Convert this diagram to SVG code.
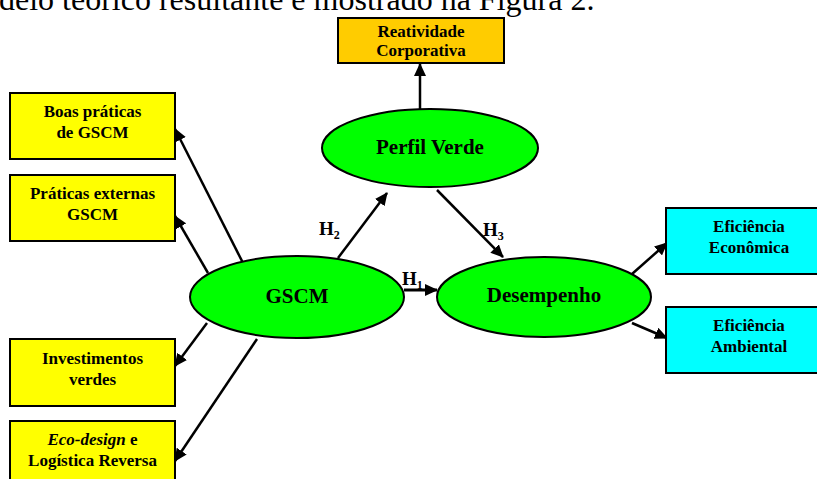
<svg xmlns="http://www.w3.org/2000/svg" width="817" height="479" viewBox="0 0 817 479">
<style>
.box{stroke:#000;stroke-width:2}
.yel{fill:#FFFF00}
.org{fill:#FFCC00}
.cyn{fill:#00FFFF}
.ell{fill:#00FF00;stroke:#000;stroke-width:2}
.bt{font-family:"Liberation Serif","Times New Roman",serif;font-weight:bold;font-size:17px;text-anchor:middle;fill:#000}
.et{font-family:"Liberation Serif","Times New Roman",serif;font-weight:bold;font-size:21px;text-anchor:middle;fill:#000}
.ht{font-family:"Liberation Serif","Times New Roman",serif;font-weight:bold;font-size:19px;fill:#000}
.sub{font-size:12px}
.top{font-family:"Liberation Serif","Times New Roman",serif;font-size:32px;fill:#000}
.conn line{stroke:#000;stroke-width:2.5;marker-end:url(#ah)}
</style>
<defs>
<marker id="ah" markerUnits="userSpaceOnUse" markerWidth="14" markerHeight="12" refX="12" refY="6" orient="auto">
<path d="M0,0 L13,6 L0,12 Z" fill="#000"/>
</marker>
</defs>
<rect width="817" height="479" fill="#fff"/>
<text class="top" x="-1" y="10">delo teórico resultante é mostrado na Figura 2.</text>
<g class="conn" id="connectors">
<line x1="420" y1="109" x2="420" y2="64"/>
<line x1="243" y1="263" x2="175" y2="129"/>
<line x1="208" y1="273" x2="175" y2="216"/>
<line x1="207" y1="323" x2="175" y2="366"/>
<line x1="257" y1="339" x2="175" y2="461"/>
<line x1="338" y1="258" x2="387" y2="193"/>
<line x1="437" y1="190" x2="503" y2="257"/>
<line x1="404" y1="290" x2="437" y2="290" style="stroke-width:3"/>
<line x1="632" y1="274" x2="667" y2="243"/>
<line x1="632" y1="323" x2="667" y2="338"/>
</g>
<g id="reatividade">
<rect class="box org" x="338" y="18" width="166" height="45"/>
<text class="bt" x="421" y="37">Reatividade</text>
<text class="bt" x="421" y="56">Corporativa</text>
</g>
<g id="boas">
<rect class="box yel" x="10" y="93" width="165" height="66"/>
<text class="bt" x="92.5" y="117">Boas práticas</text>
<text class="bt" x="92.5" y="138">de GSCM</text>
</g>
<g id="externas">
<rect class="box yel" x="10" y="175" width="165" height="66"/>
<text class="bt" x="92.5" y="199">Práticas externas</text>
<text class="bt" x="92.5" y="220">GSCM</text>
</g>
<g id="investimentos">
<rect class="box yel" x="10" y="339" width="165" height="67"/>
<text class="bt" x="92.5" y="364">Investimentos</text>
<text class="bt" x="92.5" y="385">verdes</text>
</g>
<g id="ecodesign">
<rect class="box yel" x="10" y="421" width="165" height="66"/>
<text class="bt" x="92.5" y="445"><tspan font-style="italic">Eco-design</tspan> e</text>
<text class="bt" x="92.5" y="466">Logística Reversa</text>
</g>
<g id="economica">
<rect class="box cyn" x="666" y="208" width="166" height="66"/>
<text class="bt" x="749" y="232">Eficiência</text>
<text class="bt" x="749" y="253">Econômica</text>
</g>
<g id="ambiental">
<rect class="box cyn" x="666" y="307" width="166" height="66"/>
<text class="bt" x="749" y="331">Eficiência</text>
<text class="bt" x="749" y="352">Ambiental</text>
</g>
<g id="perfil">
<ellipse class="ell" cx="430" cy="148" rx="108" ry="39"/>
<text class="et" x="430" y="154">Perfil Verde</text>
</g>
<g id="gscm">
<ellipse class="ell" cx="297" cy="297" rx="107" ry="41"/>
<text class="et" x="297" y="303">GSCM</text>
</g>
<g id="desempenho">
<ellipse class="ell" cx="544" cy="297" rx="107" ry="40"/>
<text class="et" x="544" y="302">Desempenho</text>
</g>
<g id="labels">
<text class="ht" x="319" y="235">H<tspan class="sub" dy="4">2</tspan></text>
<text class="ht" x="483" y="236">H<tspan class="sub" dy="4">3</tspan></text>
<text class="ht" x="402" y="285">H<tspan class="sub" dy="4">1</tspan></text>
</g>
</svg>
